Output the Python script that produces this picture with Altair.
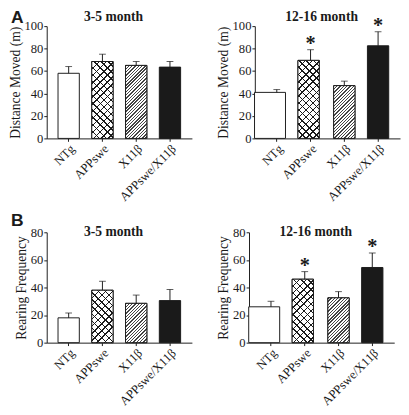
import math
import altair as alt
import pandas as pd

groups = ["NTg", "APPswe", "X11β", "APPswe/X11β"]

dist_3_5 = [58, 68.5, 65, 63.5]
dist_3_5_sem = [6, 6.5, 3.5, 5]
dist_12_16 = [41, 69.5, 47, 82.5]
dist_12_16_sem = [2.5, 9.5, 4, 12.5]
rear_3_5 = [18, 38, 28.5, 30.5]
rear_3_5_sem = [3.5, 6.5, 6, 8]
rear_12_16 = [26, 46, 32.5, 54.5]
rear_12_16_sem = [4, 5.5, 4.5, 10.5]
sig_3_5 = [False, False, False, False]
sig_12_16 = [False, True, False, True]

SERIF = "Liberation Serif"
PW = 150
HA = 116
HB = 114
BAR = 22
INK = "#1a1a1a"
CLEAR = "rgba(255,255,255,0)"


def stripes(w, h, kind, period, line, ink, paper):
    d = w * w + h * h
    if kind == "/":
        x1, y1, x2, y2 = 0, 0, w * (w + h) / d, h * (w + h) / d
    else:
        x1, y1, x2, y2 = 0, 1, w * (w + h) / d, 1 - h * (w + h) / d
    span = w + h
    dt = period * math.sqrt(2) / span
    lt = line * math.sqrt(2) / span
    stops = []
    t = 0.0
    while t < 1:
        a = round(min(t + lt, 1), 5)
        b = round(min(t + dt, 1), 5)
        t0 = round(t, 5)
        stops += [
            {"offset": t0, "color": ink},
            {"offset": a, "color": ink},
            {"offset": a, "color": paper},
            {"offset": b, "color": paper},
        ]
        t += dt
    return {"gradient": "linear", "x1": x1, "y1": y1, "x2": x2, "y2": y2, "stops": stops}


def panel(vals, sems, sig, ymax, ytitle, title, title_y, wide, height, letter=None, letter_y=0):
    df = pd.DataFrame({"group": groups, "value": vals, "sem": sems, "sig": sig})
    df["top"] = df["value"] + df["sem"]
    x = alt.X(
        "group:N",
        sort=groups,
        scale=alt.Scale(paddingInner=0, paddingOuter=0.15),
        axis=alt.Axis(
            title=None, labelAngle=-45, tickSize=3, labelFont=SERIF, labelFontSize=13,
            labelColor=INK, domainColor=INK, tickColor=INK, labelPadding=1,
        ),
    )

    def yenc(field):
        return alt.Y(
            field + ":Q",
            scale=alt.Scale(domain=[0, ymax], nice=False),
            axis=alt.Axis(
                title=ytitle, values=list(range(0, ymax + 1, 20)), labelFont=SERIF, labelFontSize=13,
                titleFont=SERIF, titleFontSize=14, titleFontWeight="normal", labelColor=INK,
                titleColor=INK, domainColor=INK, tickColor=INK, tickSize=3, labelPadding=1, titlePadding=2,
            ),
        )

    base = alt.Chart(df)
    layers = []
    fills = {"NTg": "white", "APPswe": "white", "X11β": "white", "APPswe/X11β": INK}
    for i, g in enumerate(groups):
        size, off = BAR, 0
        if wide and g == "NTg":
            size, off = 32, -7
        if wide and g == "APPswe":
            off = -2
        sel = base.transform_filter(alt.datum.group == g)
        layers.append(
            sel.mark_bar(size=size, xOffset=off, fill=fills[g], stroke=INK, strokeWidth=1).encode(
                x=x, y=yenc("value")
            )
        )
        h = vals[i] / ymax * height
        hatch = []
        if g == "APPswe":
            hatch = [stripes(size, h, "/", 5.2, 1.0, INK, "white"),
                     stripes(size, h, "\\", 5.2, 1.0, INK, CLEAR)]
        if g == "X11β":
            hatch = [stripes(size, h, "/", 2.4, 1.0, "#444444", "white")]
        for f in hatch:
            layers.append(
                sel.mark_bar(size=size, xOffset=off, fill=f, strokeWidth=0).encode(x=x, y=yenc("value"))
            )
        if hatch:
            layers.append(
                sel.mark_bar(size=size, xOffset=off, fill=CLEAR, stroke=INK, strokeWidth=1).encode(
                    x=x, y=yenc("value")
                )
            )
    layers.append(
        base.mark_rule(color=INK, strokeWidth=1).encode(x=x, y=yenc("value"), y2="top:Q")
    )
    layers.append(base.mark_tick(color=INK, size=7, thickness=1).encode(x=x, y=yenc("top")))
    layers.append(
        base.transform_filter("datum.sig")
        .mark_text(text="*", font=SERIF, fontSize=21, fontWeight="bold", baseline="alphabetic", dy=0, color=INK)
        .encode(x=x, y=yenc("top"))
    )
    layers.append(
        alt.Chart(pd.DataFrame({"label": [title]}))
        .mark_text(font=SERIF, fontSize=14, fontWeight="bold", align="center", baseline="top", color=INK)
        .encode(text="label:N", x=alt.value(PW / 2 - 6), y=alt.value(title_y))
    )
    if letter:
        layers.append(
            alt.Chart(pd.DataFrame({"letter": [letter]}))
            .mark_text(font="Liberation Sans", fontSize=18, fontWeight="bold", align="left", baseline="top", color=INK)
            .encode(text="letter:N", x=alt.value(-37), y=alt.value(letter_y))
        )
    return alt.layer(*layers).properties(width=PW, height=height)


a1 = panel(dist_3_5, dist_3_5_sem, sig_3_5, 100, "Distance Moved (m)", "3-5 month", -16, False, HA, "A", -17)
a2 = panel(dist_12_16, dist_12_16_sem, sig_12_16, 100, "Distance Moved (m)", "12-16 month", -16, True, HA)
b1 = panel(rear_3_5, rear_3_5_sem, sig_3_5, 80, "Rearing Frequency", "3-5 month", -7, False, HB, "B", -21)
b2 = panel(rear_12_16, rear_12_16_sem, sig_12_16, 80, "Rearing Frequency", "12-16 month", -7, True, HB)

chart = (
    alt.vconcat(alt.hconcat(a1, a2, spacing=24), alt.hconcat(b1, b2, spacing=24), spacing=7)
    .properties(padding={"left": 0, "top": -6, "right": 0, "bottom": 0})
    .configure_view(stroke="transparent")
    .configure_axis(grid=False)
)

chart.save("out.html", embed_options={"renderer": "svg", "actions": False})
